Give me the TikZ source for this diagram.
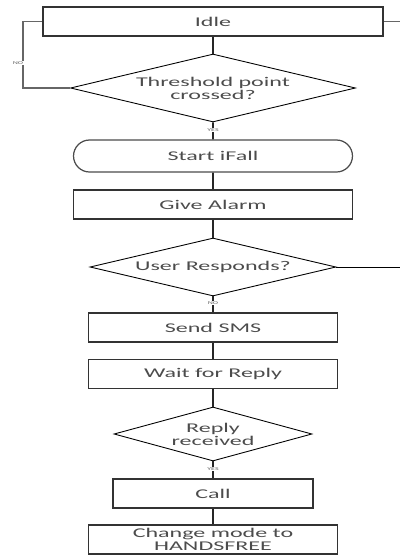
\documentclass[tikz,border=0pt]{standalone}
\usepackage{fontspec}
\setmainfont[FakeStretch=1.8]{Carlito}
\usetikzlibrary{shapes.geometric,shapes.misc}

\begin{document}
\begin{tikzpicture}[x=0.02cm,y=-0.02cm,
    every node/.style={font=\fontsize{7.6}{7.4}\selectfont, text=black!70, align=center},
    box/.style={rectangle, draw=black!80, line width=0.9pt, inner sep=0pt, minimum height=0.58cm},
    term/.style={rounded rectangle, draw=black!70, line width=0.7pt, inner sep=0pt, minimum height=0.64cm},
    decide/.style={diamond, draw=black, line width=0.5pt, inner sep=0pt},
    tag/.style={font=\fontsize{2.5}{3}\selectfont, text=black!60, fill=white, inner sep=0.4pt},
    flow/.style={black!85, line width=0.9pt}]
    \useasboundingbox (0,0) rectangle (400,555);

    \node[box, minimum width=6.8cm] (idle) at (213,21.5) {Idle};
    \node[decide, minimum width=5.7cm, minimum height=1.36cm, aspect=4.2] (thresh) at (213,88) {Threshold point\\crossed?};
    \node[term, minimum width=5.58cm] (start) at (213,156) {Start iFall};
    \node[box, minimum width=5.58cm] (alarm) at (213,204.5) {Give Alarm};
    \node[decide, minimum width=4.92cm, minimum height=1.16cm, aspect=4.2] (respond) at (213,267) {User Responds?};
    \node[box, minimum width=4.98cm] (sms) at (213,327.5) {Send SMS};
    \node[box, minimum width=4.98cm] (wait) at (213,374) {Wait for Reply};
    \node[decide, minimum width=3.96cm, minimum height=1.08cm, aspect=3.7] (reply) at (213,434) {Reply\\received};
    \node[box, minimum width=4cm] (call) at (213,493.5) {Call};
    \node[box, minimum width=4.98cm] (mode) at (213,539.5) {Change mode to\\HANDSFREE};

    \coordinate (noloop) at (23,88);
    \coordinate (idleout) at (400,21.5);
    \coordinate (respout) at (400,267);

    \draw[flow] (idle) -- (thresh);
    \draw[flow, black!60] (thresh.west) -- (noloop) |- (idle.west);
    \draw[flow, black!60] (idle.east) -- (idleout);
    \draw[flow] (thresh) -- (start);
    \draw[flow] (start) -- (alarm);
    \draw[flow] (alarm) -- (respond);
    \draw[black, line width=0.5pt] (respond.east) -- (respout);
    \draw[flow] (respond) -- (sms);
    \draw[flow] (sms) -- (wait);
    \draw[flow] (wait) -- (reply);
    \draw[flow] (reply) -- (call);
    \draw[flow] (call) -- (mode);

    \node[tag] (no1) at (18,63) {NO};
    \node[tag] (yes1) at (213,130) {YES};
    \node[tag] (no2) at (213,303) {NO};
    \node[tag] (yes2) at (213,469) {YES};
\end{tikzpicture}
\end{document}
